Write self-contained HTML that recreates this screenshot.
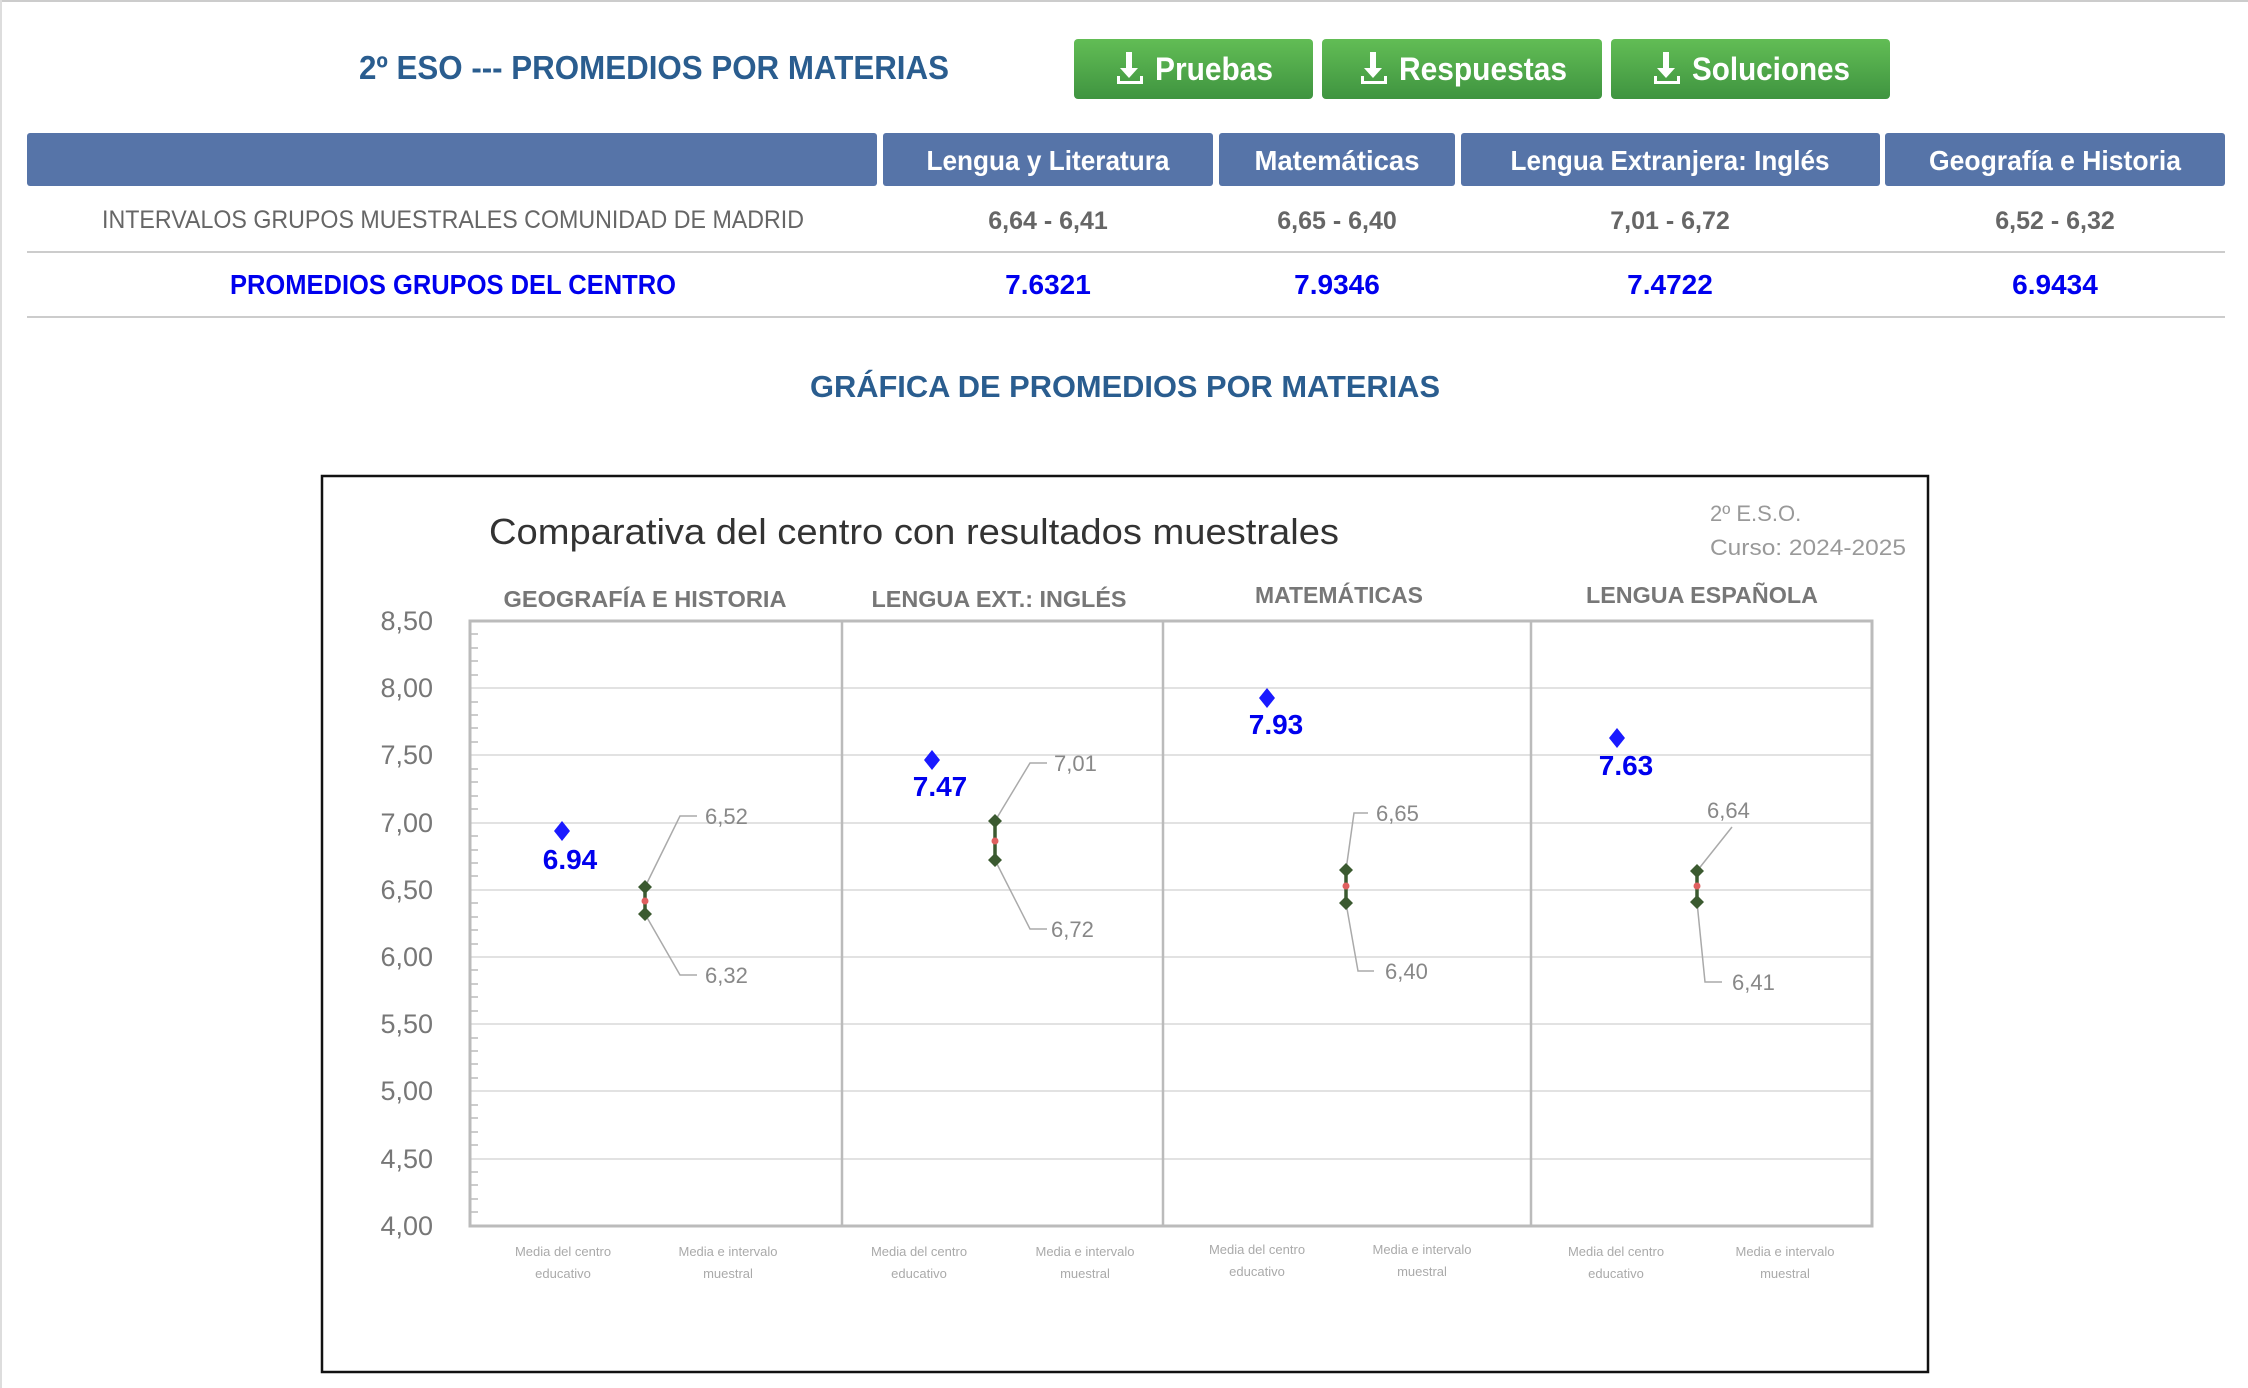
<!DOCTYPE html>
<html><head><meta charset="utf-8"><style>
html,body{margin:0;padding:0;background:#fff;}
svg{display:block;}
</style></head><body>
<svg width="2248" height="1388" viewBox="0 0 2248 1388" xmlns="http://www.w3.org/2000/svg" font-family="Liberation Sans, sans-serif">
<defs>
<linearGradient id="g" x1="0" y1="0" x2="0" y2="1"><stop offset="0" stop-color="#62bd55"/><stop offset="1" stop-color="#3f9440"/></linearGradient>
</defs>
<rect x="0" y="0" width="2248" height="1388" fill="#fff"/>
<line x1="0" y1="1" x2="2248" y2="1" stroke="#ccc" stroke-width="2"/>
<line x1="1" y1="0" x2="1" y2="1388" stroke="#ddd" stroke-width="2"/>
<text x="654" y="79" text-anchor="middle" font-size="33" font-weight="bold" fill="#2a5d8f" textLength="590" lengthAdjust="spacingAndGlyphs">2º ESO --- PROMEDIOS POR MATERIAS</text>
<!-- buttons -->
<g font-size="32" font-weight="bold" fill="#fff">
<rect x="1074" y="39" width="239" height="60" rx="4" fill="url(#g)"/>
<rect x="1322" y="39" width="280" height="60" rx="4" fill="url(#g)"/>
<rect x="1611" y="39" width="279" height="60" rx="4" fill="url(#g)"/>
<g fill="#fff">
<path d="M1126 52h6v16h6l-9 10-9-10h6z M1117 76h3v5h20v-5h3v8h-26z"/>
<path d="M1370 52h6v16h6l-9 10-9-10h6z M1361 76h3v5h20v-5h3v8h-26z"/>
<path d="M1663 52h6v16h6l-9 10-9-10h6z M1654 76h3v5h20v-5h3v8h-26z"/>
</g>
<text x="1155" y="80" textLength="118" lengthAdjust="spacingAndGlyphs">Pruebas</text>
<text x="1399" y="80" textLength="168" lengthAdjust="spacingAndGlyphs">Respuestas</text>
<text x="1692" y="80" textLength="158" lengthAdjust="spacingAndGlyphs">Soluciones</text>
</g>
<!-- table header -->
<g fill="#5674a8">
<rect x="27" y="133" width="850" height="53" rx="3"/>
<rect x="883" y="133" width="330" height="53" rx="3"/>
<rect x="1219" y="133" width="236" height="53" rx="3"/>
<rect x="1461" y="133" width="419" height="53" rx="3"/>
<rect x="1885" y="133" width="340" height="53" rx="3"/>
</g>
<g font-size="28" font-weight="bold" fill="#fff" text-anchor="middle">
<text x="1048" y="170" textLength="243" lengthAdjust="spacingAndGlyphs">Lengua y Literatura</text>
<text x="1337" y="170" textLength="165" lengthAdjust="spacingAndGlyphs">Matemáticas</text>
<text x="1670" y="170" textLength="319" lengthAdjust="spacingAndGlyphs">Lengua Extranjera: Inglés</text>
<text x="2055" y="170" textLength="252" lengthAdjust="spacingAndGlyphs">Geografía e Historia</text>
</g>
<g font-size="25" fill="#666" text-anchor="middle">
<text x="453" y="228" textLength="702" lengthAdjust="spacingAndGlyphs">INTERVALOS GRUPOS MUESTRALES COMUNIDAD DE MADRID</text>
<g font-weight="bold">
<text x="1048" y="229">6,64 - 6,41</text>
<text x="1337" y="229">6,65 - 6,40</text>
<text x="1670" y="229">7,01 - 6,72</text>
<text x="2055" y="229">6,52 - 6,32</text>
</g>
</g>
<line x1="27" y1="252" x2="2225" y2="252" stroke="#ccc" stroke-width="2"/>
<g font-size="28" font-weight="bold" fill="#0000ee" text-anchor="middle">
<text x="453" y="294" textLength="446" lengthAdjust="spacingAndGlyphs">PROMEDIOS GRUPOS DEL CENTRO</text>
<text x="1048" y="294">7.6321</text>
<text x="1337" y="294">7.9346</text>
<text x="1670" y="294">7.4722</text>
<text x="2055" y="294">6.9434</text>
</g>
<line x1="27" y1="317" x2="2225" y2="317" stroke="#ccc" stroke-width="2"/>
<text x="1125" y="397" text-anchor="middle" font-size="31" font-weight="bold" fill="#2a5d8f" textLength="630" lengthAdjust="spacingAndGlyphs">GRÁFICA DE PROMEDIOS POR MATERIAS</text>
<!-- chart box -->
<rect x="322" y="476" width="1606" height="896" fill="#fff" stroke="#111" stroke-width="2.5"/>
<text x="489" y="544" font-size="36" fill="#333" textLength="850" lengthAdjust="spacingAndGlyphs">Comparativa del centro con resultados muestrales</text>
<text x="1710" y="521" font-size="22" fill="#999">2º E.S.O.</text>
<text x="1710" y="555" font-size="22" fill="#999" textLength="196" lengthAdjust="spacingAndGlyphs">Curso: 2024-2025</text>
<g font-size="23" font-weight="bold" fill="#777" text-anchor="middle">
<text x="645" y="607" textLength="283" lengthAdjust="spacingAndGlyphs">GEOGRAFÍA E HISTORIA</text>
<text x="999" y="607" textLength="255" lengthAdjust="spacingAndGlyphs">LENGUA EXT.: INGLÉS</text>
<text x="1339" y="603" textLength="168" lengthAdjust="spacingAndGlyphs">MATEMÁTICAS</text>
<text x="1702" y="603" textLength="232" lengthAdjust="spacingAndGlyphs">LENGUA ESPAÑOLA</text>
</g>
<!-- grid -->
<g stroke="#e2e2e2" stroke-width="2">
<line x1="470" y1="688" x2="1872" y2="688"/>
<line x1="470" y1="755" x2="1872" y2="755"/>
<line x1="470" y1="823" x2="1872" y2="823"/>
<line x1="470" y1="890" x2="1872" y2="890"/>
<line x1="470" y1="957" x2="1872" y2="957"/>
<line x1="470" y1="1024" x2="1872" y2="1024"/>
<line x1="470" y1="1091" x2="1872" y2="1091"/>
<line x1="470" y1="1159" x2="1872" y2="1159"/>
</g>
<rect x="470" y="621" width="1402" height="605" fill="none" stroke="#bbb" stroke-width="3"/>
<g stroke="#bbb" stroke-width="2.5">
<line x1="842" y1="621" x2="842" y2="1226"/>
<line x1="1163" y1="621" x2="1163" y2="1226"/>
<line x1="1531" y1="621" x2="1531" y2="1226"/>
</g>
<g stroke="#bbb" stroke-width="1.5">
<path d="M470 634h8M470 648h8M470 661h8M470 675h8M470 702h8M470 715h8M470 728h8M470 742h8M470 769h8M470 782h8M470 796h8M470 809h8M470 836h8M470 850h8M470 863h8M470 876h8M470 903h8M470 917h8M470 930h8M470 944h8M470 970h8M470 984h8M470 997h8M470 1011h8M470 1038h8M470 1051h8M470 1064h8M470 1078h8M470 1105h8M470 1118h8M470 1132h8M470 1145h8M470 1172h8M470 1185h8M470 1199h8M470 1212h8"/>
</g>
<g font-size="27" fill="#777" text-anchor="end">
<text x="433" y="630">8,50</text>
<text x="433" y="697">8,00</text>
<text x="433" y="764">7,50</text>
<text x="433" y="832">7,00</text>
<text x="433" y="899">6,50</text>
<text x="433" y="966">6,00</text>
<text x="433" y="1033">5,50</text>
<text x="433" y="1100">5,00</text>
<text x="433" y="1168">4,50</text>
<text x="433" y="1235">4,00</text>
</g>
<!-- x labels -->
<g font-size="13" fill="#aaa" text-anchor="middle">
<text x="563" y="1256">Media del centro</text><text x="563" y="1278">educativo</text>
<text x="728" y="1256">Media e intervalo</text><text x="728" y="1278">muestral</text>
<text x="919" y="1256">Media del centro</text><text x="919" y="1278">educativo</text>
<text x="1085" y="1256">Media e intervalo</text><text x="1085" y="1278">muestral</text>
<text x="1257" y="1254">Media del centro</text><text x="1257" y="1276">educativo</text>
<text x="1422" y="1254">Media e intervalo</text><text x="1422" y="1276">muestral</text>
<text x="1616" y="1256">Media del centro</text><text x="1616" y="1278">educativo</text>
<text x="1785" y="1256">Media e intervalo</text><text x="1785" y="1278">muestral</text>
</g>
<!-- leader lines -->
<g stroke="#aaa" stroke-width="1.5" fill="none">
<path d="M645 887L680 816H697M645 914L680 975H697"/>
<path d="M995 821L1030 763H1047M995 860L1030 929H1047"/>
<path d="M1346 870L1354 813H1368M1346 903L1358 971H1374"/>
<path d="M1697 871L1732 827M1697 902L1705 982H1722"/>
</g>
<g font-size="22" fill="#888">
<text x="705" y="824">6,52</text><text x="705" y="983">6,32</text>
<text x="1054" y="771">7,01</text><text x="1051" y="937">6,72</text>
<text x="1376" y="821">6,65</text><text x="1385" y="979">6,40</text>
<text x="1707" y="818">6,64</text><text x="1732" y="990">6,41</text>
</g>
<!-- intervals -->
<g stroke="#3b5a30" stroke-width="3.5">
<line x1="645" y1="887" x2="645" y2="914"/>
<line x1="995" y1="821" x2="995" y2="860"/>
<line x1="1346" y1="870" x2="1346" y2="903"/>
<line x1="1697" y1="871" x2="1697" y2="902"/>
</g>
<g fill="#3b5a30">
<path d="M645 880l7 7-7 7-7-7z M645 907l7 7-7 7-7-7z"/>
<path d="M995 814l7 7-7 7-7-7z M995 853l7 7-7 7-7-7z"/>
<path d="M1346 863l7 7-7 7-7-7z M1346 896l7 7-7 7-7-7z"/>
<path d="M1697 864l7 7-7 7-7-7z M1697 895l7 7-7 7-7-7z"/>
</g>
<g fill="#e06060">
<circle cx="645" cy="901" r="3.5"/><circle cx="995" cy="841" r="3.5"/><circle cx="1346" cy="886" r="3.5"/><circle cx="1697" cy="886" r="3.5"/>
</g>
<!-- centre points -->
<g fill="#1a1aff">
<path d="M562 821l8 10-8 10-8-10z"/>
<path d="M932 750l8 10-8 10-8-10z"/>
<path d="M1267 688l8 10-8 10-8-10z"/>
<path d="M1617 728l8 10-8 10-8-10z"/>
</g>
<g font-size="28" font-weight="bold" fill="#0000ee" text-anchor="middle">
<text x="570" y="869">6.94</text>
<text x="940" y="796">7.47</text>
<text x="1276" y="734">7.93</text>
<text x="1626" y="775">7.63</text>
</g>
</svg>
</body></html>
